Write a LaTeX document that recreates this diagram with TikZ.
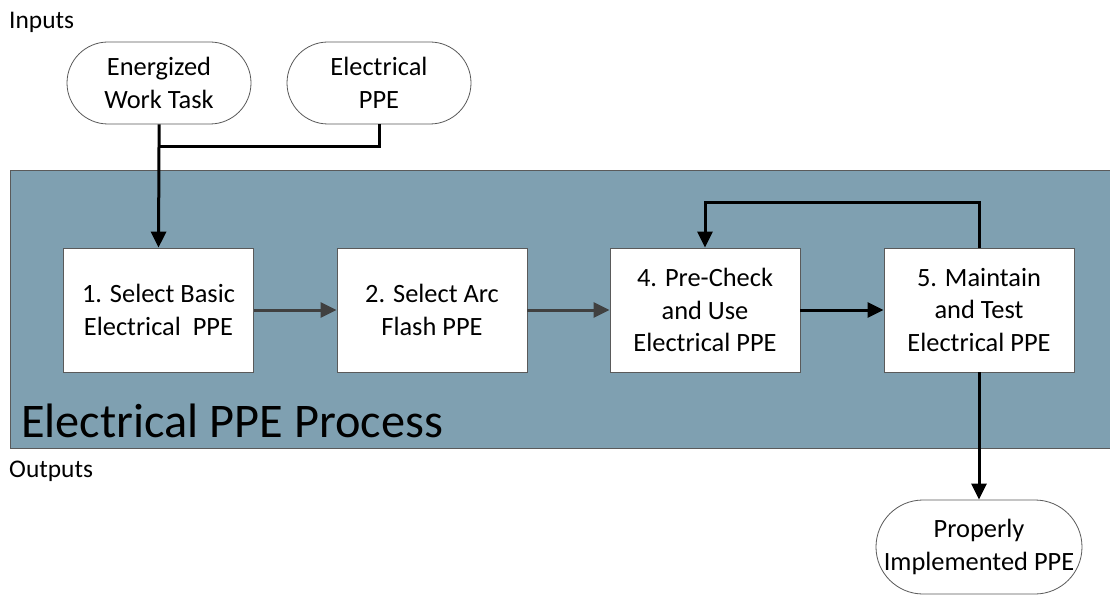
\documentclass[tikz,border=0pt]{standalone}
\usepackage{fontspec}
\setmainfont{Carlito}
\usetikzlibrary{arrows.meta}
\definecolor{panelblue}{RGB}{127,160,177}
\definecolor{edgegray}{RGB}{90,90,90}
\definecolor{arrowgray}{RGB}{64,64,64}
\begin{document}
\begin{tikzpicture}[x=1bp,y=-1bp,
  term/.style={draw=edgegray,line width=0.8bp,fill=white,rounded corners=41bp,minimum width=184bp,minimum height=82bp,align=center,inner sep=0pt,font=\fontsize{26.5}{33}\selectfont},
  procbox/.style={draw=edgegray,line width=0.8bp,fill=white,minimum width=190bp,minimum height=124bp,align=center,inner sep=0pt,font=\fontsize{26.5}{33}\selectfont},
  blackarrow/.style={line width=3bp,-{Triangle[length=16bp,width=15bp]}},
  grayarrow/.style={draw=arrowgray,line width=3bp,-{Triangle[length=16bp,width=15bp]}},
  blackline/.style={line width=3bp},
  lbl/.style={inner sep=0pt,font=\fontsize{25.5}{30}\selectfont}]
\useasboundingbox (0,0) rectangle (1110,595);
\fill[white] (0,0) rectangle (1110,595);
% panel
\draw[draw=edgegray,line width=0.8bp,fill=panelblue] (10,170) rectangle (1112,448);
\node[lbl,anchor=base west] (inputs) at (9,29) {Inputs};
\node[lbl,anchor=base west] (outputs) at (9,477) {Outputs};
\node[inner sep=0pt,anchor=base west,font=\fontsize{48.5}{56}\selectfont] (title) at (21,437) {Electrical PPE Process};
% inputs
\node[term] (ewt) at (159,83) {Energized\\Work Task};
\node[term] (eppe) at (379,83) {Electrical\\PPE};
% process boxes
\node[procbox] (b1) at (158.5,310) {1. Select Basic\\Electrical\ \ PPE};
\node[procbox] (b2) at (432,310) {2. Select Arc\\Flash PPE};
\node[procbox] (b4) at (705,310) {4. Pre-Check\\and Use\\Electrical PPE};
\node[procbox] (b5) at (979,310) {5. Maintain\\and Test\\Electrical PPE};
% output
\node[term,minimum width=206bp,minimum height=94bp,rounded corners=47bp] (out) at (979,547) {Properly\\Implemented PPE};
% connectors
\coordinate (j) at (159,147);
\draw[blackline] (eppe.south) |- (j);
\draw[blackarrow] (ewt.south) -- (j) -- (b1.north);
\draw[grayarrow] (b1) -- (b2);
\draw[grayarrow] (b2) -- (b4);
\draw[blackarrow] (b4) -- (b5);
\coordinate (fb) at (979,203);
\draw[blackarrow] (b5.north) -- (fb) -| (b4.north);
\draw[blackarrow] (b5.south) -- (out.north);
\end{tikzpicture}
\end{document}
